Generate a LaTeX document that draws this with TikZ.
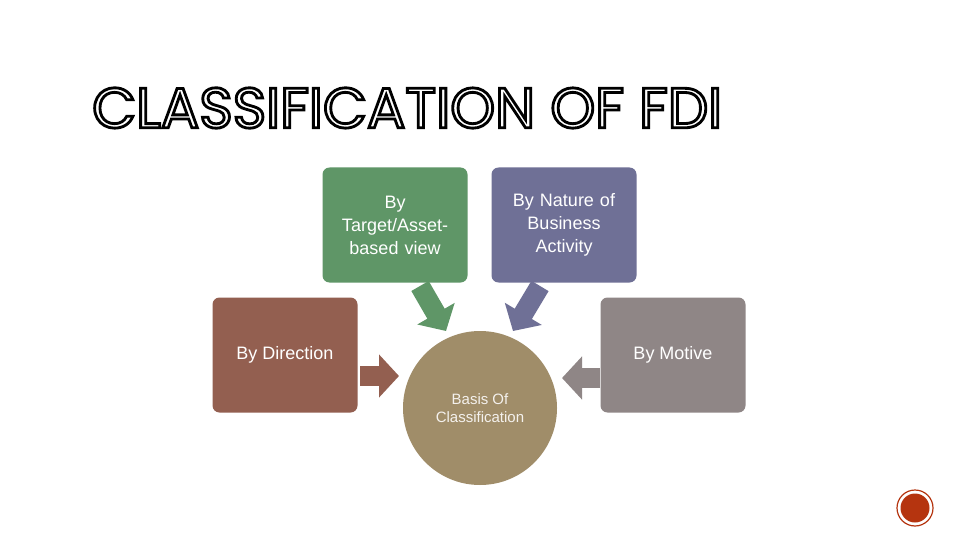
\documentclass[tikz,border=0pt]{standalone}
\usepackage{fontspec}
\setmainfont{Liberation Sans}
\newfontfamily\titlefont{Poppins}
\usetikzlibrary{arrows.meta}
\definecolor{cgreen}{HTML}{5F9667}
\definecolor{cpurple}{HTML}{6F7096}
\definecolor{cbrown}{HTML}{935F50}
\definecolor{cgray}{HTML}{8F8686}
\definecolor{ccirc}{HTML}{A08D69}
\definecolor{cred}{HTML}{B5340F}
\begin{document}
\begin{tikzpicture}[x=1pt,y=-1pt,
  card/.style={rounded corners=7pt,minimum width=145pt,minimum height=115pt,text=white,align=center,font=\fontsize{18}{23}\selectfont,inner sep=2pt},
  blk/.style={line width=20pt,-{Triangle[length=20pt,width=42pt]}}]
\useasboundingbox (0,0) rectangle (960,540);
\fill[white] (0,0) rectangle (960,540);
\node[anchor=west,inner sep=0] (title) at (92,108) {\resizebox{630pt}{40pt}{\titlefont\special{pdf:literal direct 1 Tr 0.5 w}CLASSIFICATION OF FDI\special{pdf:literal direct 0 Tr}}};
\node[card,fill=cgreen,text width=130pt] (g) at (395,225) {By\\Target/Asset-\\based view};
\node[card,fill=cpurple,text width=130pt] (p) at (564,225) {By Nature of\\Business\\Activity};
\node[card,fill=cbrown] (b) at (285,355) {By Direction};
\node[card,fill=cgray] (m) at (673,355) {By Motive};
\node[circle,fill=ccirc,minimum size=154pt,text=white!88!ccirc,align=center,font=\fontsize{15}{18}\selectfont] (c) at (480,408) {Basis Of\\Classification};
\coordinate (g1) at (420,286); \coordinate (g2) at (446,331);
\coordinate (p1) at (540,286); \coordinate (p2) at (513,331);
\coordinate (b1) at (360,376); \coordinate (b2) at (399,376);
\coordinate (m1) at (600,378); \coordinate (m2) at (562,378);
\draw[blk,cgreen] (g1) -- (g2);
\draw[blk,cpurple] (p1) -- (p2);
\draw[blk,cbrown] (b1) -- (b2);
\draw[blk,cgray] (m1) -- (m2);
\node[circle,draw=cred,line width=1.2pt,fill=white,minimum size=36pt,inner sep=0] (lo) at (915,508) {};
\node[circle,fill=cred,minimum size=29pt,inner sep=0] (li) at (lo) {};
\end{tikzpicture}
\end{document}
